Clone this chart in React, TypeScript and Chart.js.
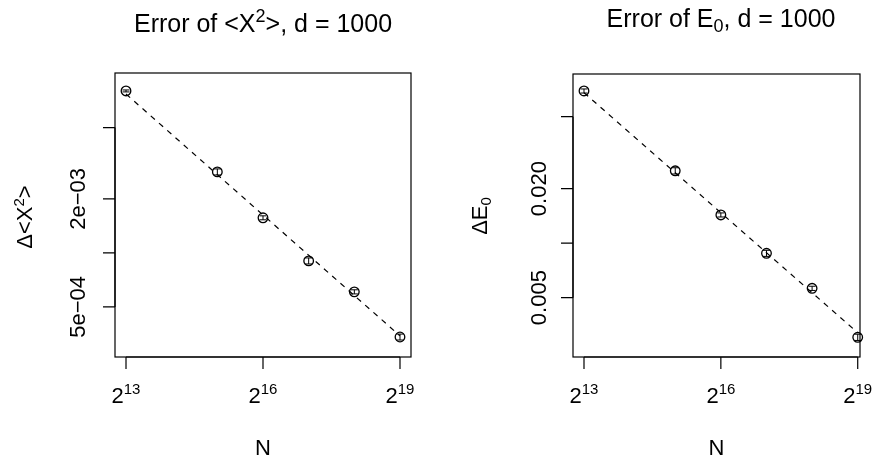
import React, { useEffect, useRef } from "react";
import { Chart, registerables } from "chart.js";

Chart.register(...registerables);

// ---- data ----
const N = [8192, 32768, 65536, 131072, 262144, 524288];
const errX2 = [8.0e-3, 2.83e-3, 1.57e-3, 9.03e-4, 6.07e-4, 3.4e-4];
const errX2Sd = [1.0e-4, 1.1e-4, 4.0e-5, 3.5e-5, 1.6e-5, 1.3e-5];
const errE0 = [0.0693, 0.0251, 0.01432, 0.00879, 0.00563, 0.00302];
const errE0Sd = [1.8e-3, 1.0e-3, 3.7e-4, 3.4e-4, 1.5e-4, 1.2e-4];
const fitN = [8192, 524288];
const fitX2 = [7.69e-3, 3.45e-4];
const fitE0 = [0.0678, 0.0032];
const xTicks = [8192, 65536, 524288];
const xTickExp = ["13", "16", "19"];
const yTicksX2 = [5e-4, 1e-3, 2e-3, 5e-3];
const yLabelsX2 = ["5e\u221204", "", "2e\u221203", ""];
const yTicksE0 = [0.005, 0.01, 0.02, 0.05];
const yLabelsE0 = ["0.005", "", "0.020", ""];

const FONT = '"Liberation Sans", Arial, Helvetica, sans-serif';
const TICK = 12;
const AX = 22;

type Seg = { t: string; size: number; dy?: number };

function drawRich(ctx: CanvasRenderingContext2D, segs: Seg[], x: number, y: number, align: string) {
  let total = 0;
  const widths = segs.map((s) => {
    ctx.font = `${s.size}px ${FONT}`;
    const w = ctx.measureText(s.t).width;
    total += w;
    return w;
  });
  let cx = align === "center" ? x - total / 2 : align === "right" ? x - total : x;
  ctx.textAlign = "left";
  ctx.textBaseline = "alphabetic";
  segs.forEach((s, i) => {
    ctx.font = `${s.size}px ${FONT}`;
    ctx.fillText(s.t, cx, y + (s.dy || 0));
    cx += widths[i];
  });
}

type PanelCfg = {
  width: number;
  left: number;
  padding: { left: number; right: number; top: number; bottom: number };
  xMinExp: number;
  xMaxExp: number;
  yMin: number;
  yMax: number;
  values: number[];
  sds: number[];
  fit: number[];
  yTicks: number[];
  yLabels: string[];
  title: Seg[];
  titleX: number;
  titleY: number;
  ylab: Seg[];
  ylabX: number;
  ylabY: number;
  ytickX: number;
};

const panels: PanelCfg[] = [
  {
    width: 440,
    left: 0,
    padding: { left: 115, right: 29, top: 73, bottom: 106 },
    xMinExp: 12.759,
    xMaxExp: 19.241,
    yMin: 2.63e-4,
    yMax: 1.007e-2,
    values: errX2,
    sds: errX2Sd,
    fit: fitX2,
    yTicks: yTicksX2,
    yLabels: yLabelsX2,
    title: [
      { t: "Error of <X", size: 25 },
      { t: "2", size: 18, dy: -10 },
      { t: ">, d = 1000", size: 25 },
    ],
    titleX: 263,
    titleY: 31.7,
    ylab: [
      { t: "\u0394<X", size: AX },
      { t: "2", size: 15, dy: -8 },
      { t: ">", size: AX },
    ],
    ylabX: 32,
    ylabY: 217,
    ytickX: 85,
  },
  {
    width: 437,
    left: 440,
    padding: { left: 133, right: 17, top: 74, bottom: 106 },
    xMinExp: 12.759,
    xMaxExp: 19.05,
    yMin: 0.00235,
    yMax: 0.086,
    values: errE0,
    sds: errE0Sd,
    fit: fitE0,
    yTicks: yTicksE0,
    yLabels: yLabelsE0,
    title: [
      { t: "Error of E", size: 25 },
      { t: "0", size: 18, dy: 5 },
      { t: ", d = 1000", size: 25 },
    ],
    titleX: 281,
    titleY: 26.7,
    ylab: [
      { t: "\u0394E", size: AX },
      { t: "0", size: 15, dy: 4 },
    ],
    ylabX: 47,
    ylabY: 216,
    ytickX: 106,
  },
];

function Panel({ cfg }: { cfg: PanelCfg }) {
  const ref = useRef<HTMLCanvasElement | null>(null);
  useEffect(() => {
    if (!ref.current) return;
    const overlay = {
      id: "rOverlay",
      afterDatasetsDraw(chart: any) {
        const { ctx, scales } = chart;
        const xs = scales.x;
        const ys = scales.y;
        ctx.save();
        ctx.strokeStyle = "#000";
        ctx.lineWidth = 1;
        ctx.beginPath();
        N.forEach((n, i) => {
          const px = xs.getPixelForValue(n);
          const hi = ys.getPixelForValue(cfg.values[i] + cfg.sds[i]);
          const lo = ys.getPixelForValue(cfg.values[i] - cfg.sds[i]);
          ctx.moveTo(px, hi);
          ctx.lineTo(px, lo);
          ctx.moveTo(px - 3.5, hi);
          ctx.lineTo(px + 3.5, hi);
          ctx.moveTo(px - 3.5, lo);
          ctx.lineTo(px + 3.5, lo);
        });
        ctx.stroke();
        ctx.restore();
      },
      afterDraw(chart: any) {
        const { ctx, chartArea: a, scales } = chart;
        const xs = scales.x;
        const ys = scales.y;
        ctx.save();
        ctx.strokeStyle = "#000";
        ctx.fillStyle = "#000";
        ctx.lineWidth = 1.2;
        ctx.strokeRect(a.left, a.top, a.right - a.left, a.bottom - a.top);
        ctx.beginPath();
        const xa = xs.getPixelForValue(xTicks[0]);
        const xb = xs.getPixelForValue(xTicks[xTicks.length - 1]);
        ctx.moveTo(xa, a.bottom);
        ctx.lineTo(xb, a.bottom);
        xTicks.forEach((v) => {
          const px = xs.getPixelForValue(v);
          ctx.moveTo(px, a.bottom);
          ctx.lineTo(px, a.bottom + TICK);
        });
        const ya = ys.getPixelForValue(cfg.yTicks[0]);
        const yb = ys.getPixelForValue(cfg.yTicks[cfg.yTicks.length - 1]);
        ctx.moveTo(a.left, ya);
        ctx.lineTo(a.left, yb);
        cfg.yTicks.forEach((v) => {
          const py = ys.getPixelForValue(v);
          ctx.moveTo(a.left, py);
          ctx.lineTo(a.left - TICK, py);
        });
        ctx.stroke();

        // x tick labels 2^k
        xTicks.forEach((v, i) => {
          const px = xs.getPixelForValue(v);
          drawRich(
            ctx,
            [
              { t: "2", size: AX },
              { t: xTickExp[i], size: 15, dy: -9 },
            ],
            px,
            403,
            "center"
          );
        });
        // x label
        const cxm = (a.left + a.right) / 2;
        drawRich(ctx, [{ t: "N", size: AX }], cxm, 455, "center");

        // y tick labels (rotated)
        cfg.yTicks.forEach((v, i) => {
          if (!cfg.yLabels[i]) return;
          const py = ys.getPixelForValue(v);
          ctx.save();
          ctx.translate(cfg.ytickX, py);
          ctx.rotate(-Math.PI / 2);
          drawRich(ctx, [{ t: cfg.yLabels[i], size: AX }], 0, 0, "center");
          ctx.restore();
        });
        // y label
        ctx.save();
        ctx.translate(cfg.ylabX, cfg.ylabY);
        ctx.rotate(-Math.PI / 2);
        drawRich(ctx, cfg.ylab, 0, 0, "center");
        ctx.restore();

        // title
        drawRich(ctx, cfg.title, cfg.titleX, cfg.titleY, "center");
        ctx.restore();
      },
    };

    const chart = new Chart(ref.current, {
      type: "scatter",
      data: {
        datasets: [
          {
            data: fitN.map((n, i) => ({ x: n, y: cfg.fit[i] })),
            showLine: true,
            borderColor: "#000",
            borderWidth: 1.2,
            borderDash: [5.5, 5.5],
            pointRadius: 0,
            fill: false,
            clip: false,
          },
          {
            data: N.map((n, i) => ({ x: n, y: cfg.values[i] })),
            showLine: false,
            pointStyle: "circle",
            pointRadius: 4.8,
            pointBorderWidth: 1.3,
            pointBorderColor: "#000",
            pointBackgroundColor: "rgba(0,0,0,0)",
            clip: false,
          },
        ],
      },
      options: {
        animation: false,
        responsive: false,
        devicePixelRatio: 1,
        layout: { padding: cfg.padding },
        plugins: {
          legend: { display: false },
          tooltip: { enabled: false },
          title: { display: false },
        },
        scales: {
          x: {
            type: "logarithmic",
            display: false,
            bounds: "data",
            min: Math.pow(2, cfg.xMinExp),
            max: Math.pow(2, cfg.xMaxExp),
          },
          y: {
            type: "logarithmic",
            display: false,
            bounds: "data",
            min: cfg.yMin,
            max: cfg.yMax,
          },
        },
      },
      plugins: [overlay],
    } as any);
    return () => chart.destroy();
  }, [cfg]);
  return (
    <canvas
      ref={ref}
      width={cfg.width}
      height={463}
      style={{ position: "absolute", left: cfg.left, top: 0, width: cfg.width, height: 463 }}
    />
  );
}

export default function App() {
  return (
    <div style={{ position: "absolute", left: 0, top: 0, width: 877, height: 463, background: "#fff" }}>
      {panels.map((p, i) => (
        <Panel key={i} cfg={p} />
      ))}
    </div>
  );
}
